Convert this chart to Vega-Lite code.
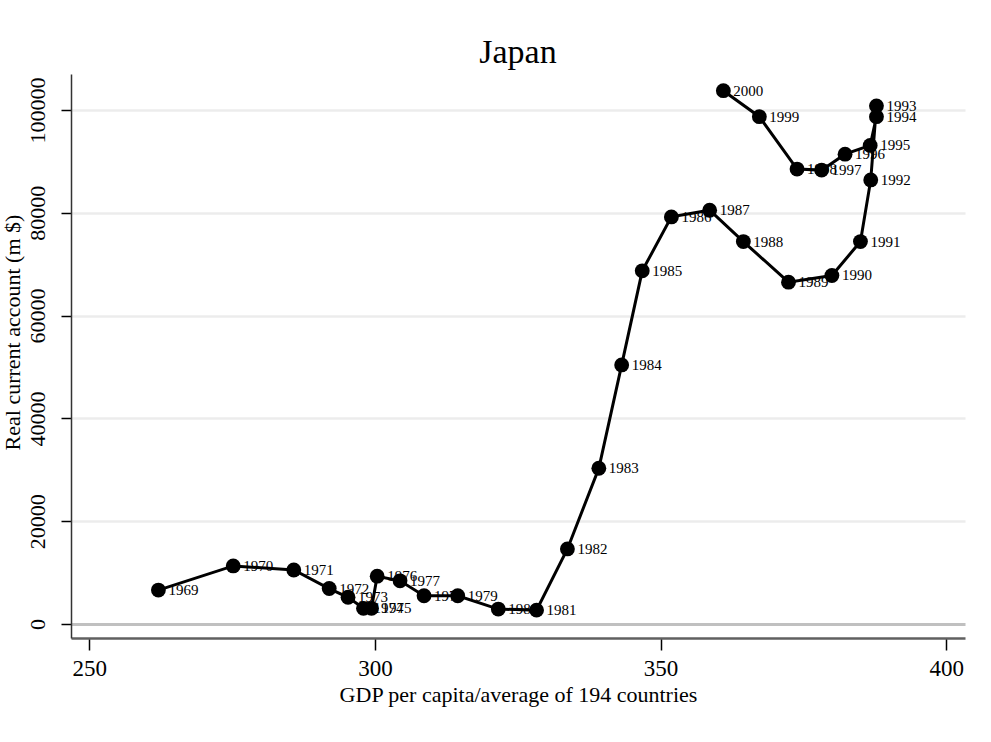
{
  "$schema": "https://vega.github.io/schema/vega-lite/v6.json",
  "width": 894,
  "height": 564,
  "autosize": "none",
  "padding": {"left": 71, "top": 74, "right": 26, "bottom": 104},
  "background": "white",
  "title": {"text": "Japan", "font": "Liberation Serif", "fontSize": 34, "fontWeight": "normal", "color": "black", "anchor": "middle", "frame": "group", "offset": 4},
  "data": {"values": [
    {"year": "1969", "gdp": 262.1, "ca": 6600},
    {"year": "1970", "gdp": 275.2, "ca": 11300},
    {"year": "1971", "gdp": 285.8, "ca": 10500},
    {"year": "1972", "gdp": 292.0, "ca": 6900},
    {"year": "1973", "gdp": 295.3, "ca": 5200},
    {"year": "1974", "gdp": 298.0, "ca": 3050},
    {"year": "1975", "gdp": 299.4, "ca": 3050},
    {"year": "1976", "gdp": 300.4, "ca": 9300},
    {"year": "1977", "gdp": 304.4, "ca": 8400},
    {"year": "1978", "gdp": 308.6, "ca": 5500},
    {"year": "1979", "gdp": 314.5, "ca": 5500},
    {"year": "1980", "gdp": 321.6, "ca": 2900},
    {"year": "1981", "gdp": 328.3, "ca": 2700},
    {"year": "1982", "gdp": 333.7, "ca": 14600},
    {"year": "1983", "gdp": 339.2, "ca": 30300},
    {"year": "1984", "gdp": 343.2, "ca": 50400},
    {"year": "1985", "gdp": 346.8, "ca": 68700},
    {"year": "1986", "gdp": 351.9, "ca": 79200},
    {"year": "1987", "gdp": 358.6, "ca": 80500},
    {"year": "1988", "gdp": 364.5, "ca": 74400},
    {"year": "1989", "gdp": 372.4, "ca": 66500},
    {"year": "1990", "gdp": 380.0, "ca": 67800},
    {"year": "1991", "gdp": 385.0, "ca": 74400},
    {"year": "1992", "gdp": 386.8, "ca": 86400},
    {"year": "1993", "gdp": 387.8, "ca": 100800},
    {"year": "1994", "gdp": 387.8, "ca": 98700},
    {"year": "1995", "gdp": 386.7, "ca": 93100},
    {"year": "1996", "gdp": 382.3, "ca": 91400},
    {"year": "1997", "gdp": 378.2, "ca": 88300},
    {"year": "1998", "gdp": 373.9, "ca": 88500},
    {"year": "1999", "gdp": 367.3, "ca": 98700},
    {"year": "2000", "gdp": 361.0, "ca": 103750}
  ]},
  "encoding": {
    "x": {"field": "gdp", "type": "quantitative",
      "scale": {"domain": [246.8, 403.3], "nice": false, "zero": false},
      "axis": {"values": [250, 300, 350, 400], "title": "GDP per capita/average of 194 countries", "grid": false,
        "domainColor": "#606060", "domainWidth": 2.5, "tickColor": "black", "tickWidth": 1.5, "tickSize": 12,
        "labelFont": "Liberation Serif", "labelFontSize": 23, "labelColor": "black", "labelPadding": 7, "labelFlush": false,
        "titleFont": "Liberation Serif", "titleFontSize": 22, "titleFontWeight": "normal", "titleColor": "black", "titlePadding": 4}},
    "y": {"field": "ca", "type": "quantitative",
      "scale": {"domain": [-2724, 107000], "nice": false, "zero": false},
      "axis": {"values": [0, 20000, 40000, 60000, 80000, 100000], "title": "Real current account (m $)", "format": "d",
        "grid": true,
        "gridColor": {"condition": {"test": "datum.value === 0", "value": "#c0c0c0"}, "value": "#ececec"},
        "gridWidth": {"condition": {"test": "datum.value === 0", "value": 3}, "value": 2.5},
        "domainColor": "#333333", "domainWidth": 1.5, "tickColor": "black", "tickWidth": 1.5, "tickSize": 10,
        "labelAngle": -90, "labelAlign": "center", "labelBaseline": "bottom",
        "labelFont": "Liberation Serif", "labelFontSize": 22, "labelColor": "black", "labelPadding": 12, "labelFlush": false,
        "titleFont": "Liberation Serif", "titleFontSize": 22, "titleFontWeight": "normal", "titleColor": "black", "titlePadding": 2, "titleY": 258}}
  },
  "layer": [
    {"mark": {"type": "line", "color": "black", "strokeWidth": 3}, "encoding": {"order": {"field": "year", "type": "ordinal"}}},
    {"mark": {"type": "point", "filled": true, "color": "black", "opacity": 1, "size": 220}},
    {"mark": {"type": "text", "align": "left", "baseline": "middle", "dx": 10, "font": "Liberation Serif", "fontSize": 15, "color": "black"},
      "encoding": {"text": {"field": "year", "type": "nominal"}}}
  ],
  "config": {"view": {"stroke": null}}
}
